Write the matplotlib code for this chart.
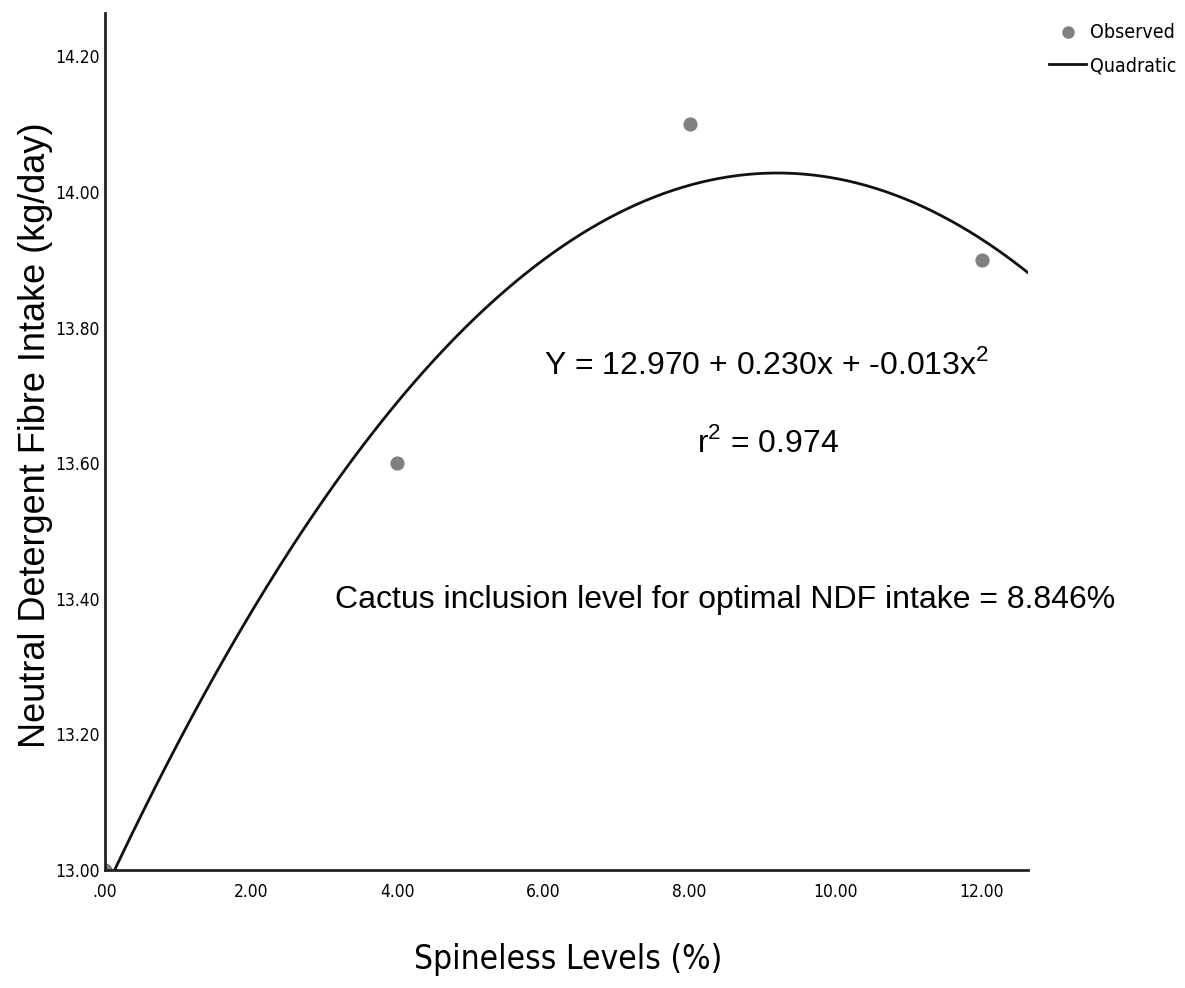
import numpy as np
import matplotlib
matplotlib.use("Agg")
import matplotlib.pyplot as plt
from matplotlib.lines import Line2D

# observed values
levels = [0, 4, 8, 12]
ndf_intake = [13.00, 13.60, 14.10, 13.90]

x_ticks = [0, 2, 4, 6, 8, 10, 12]
x_ticklabels = [".00", "2.00", "4.00", "6.00", "8.00", "10.00", "12.00"]
y_ticks = [13.0, 13.2, 13.4, 13.6, 13.8, 14.0, 14.2]
y_ticklabels = ["13.00", "13.20", "13.40", "13.60", "13.80", "14.00", "14.20"]

narrow = dict(family="DejaVu Sans", stretch="condensed")
arial = ["Liberation Sans", "DejaVu Sans"]

W, H = 1185, 988
fig = plt.figure(figsize=(W/100, H/100), dpi=100)
ax = fig.add_axes([105/W, 1 - 870/H, (1028 - 105)/W, (870 - 13)/H])

xmax = 12.63
# quadratic fit to the observed points
coef = np.polyfit(levels, ndf_intake, 2)
xs = np.linspace(0, xmax, 300)
ax.plot(xs, np.polyval(coef, xs), color="#111111", lw=2, zorder=3)
ax.scatter(levels, ndf_intake, s=85, color="#808080", zorder=2, clip_on=True)

ax.set_xlim(0, xmax)
ax.set_ylim(13.0, 14.264)
ax.set_xticks(x_ticks)
ax.set_xticklabels(x_ticklabels, fontsize=12.5, **narrow)
ax.set_yticks(y_ticks)
ax.set_yticklabels(y_ticklabels, fontsize=12.5, **narrow)
ax.tick_params(axis="x", length=0, pad=9)
ax.tick_params(axis="y", length=0, pad=4)
for s in ["top", "right"]:
    ax.spines[s].set_visible(False)
for s in ["left", "bottom"]:
    ax.spines[s].set_linewidth(2)
    ax.spines[s].set_color("#222222")

fig.text(568/W, 1 - 959/H, "Spineless Levels (%)", ha="center", va="center",
         fontsize=24, **narrow)
fig.text(36/W, 1 - 435/H, "Neutral Detergent Fibre Intake (kg/day)", ha="center",
         va="center", rotation=90, family=arial, fontsize=26)

fig.text(767/W, 1 - 365/H, r"Y = 12.970 + 0.230x + -0.013x$^\mathregular{2}$",
         ha="center", va="center", family=arial, fontsize=23)
fig.text(768/W, 1 - 443/H, r"r$^\mathregular{2}$ = 0.974", ha="center", va="center",
         family=arial, fontsize=23)
fig.text(725/W, 1 - 600/H, "Cactus inclusion level for optimal NDF intake = 8.846%",
         ha="center", va="center", family=arial, fontsize=23)

handles = [Line2D([], [], marker="o", ls="none", color="#808080", markersize=8),
           Line2D([], [], color="#111111", lw=2)]
fig.legend(handles, ["Observed", "Quadratic"], loc="upper right",
           bbox_to_anchor=(1.0076, 0.994), frameon=False, handlelength=1.9,
           handletextpad=0.2, labelspacing=0.7,
           prop={"family": "DejaVu Sans", "stretch": "condensed", "size": 14})

fig.savefig("out.png", dpi=100)
